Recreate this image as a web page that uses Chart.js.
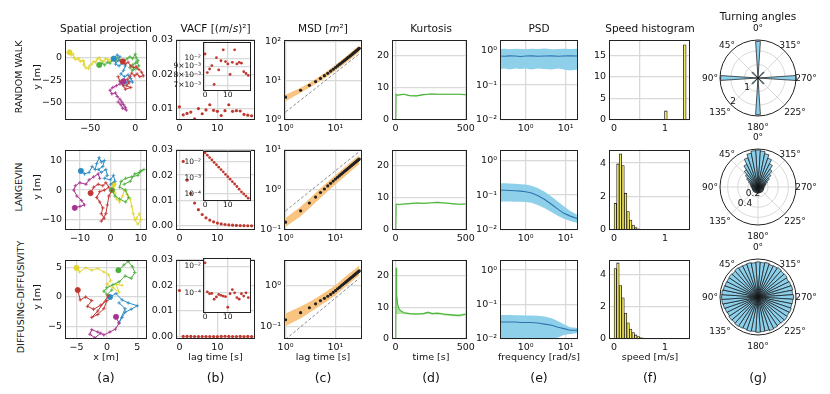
<!DOCTYPE html>
<html>
<head>
<meta charset="utf-8">
<script src="https://cdn.jsdelivr.net/npm/chart.js@4.4.0/dist/chart.umd.min.js"></script>
<style>
body { margin: 0; background: #fff; }
#fig { position: relative; width: 830px; height: 394px; overflow: hidden; font-family: "DejaVu Sans", sans-serif; color: #111; }
#fig canvas { position: absolute; }
.t { position: absolute; white-space: nowrap; transform: translate(-50%, -50%); line-height: 1; }
.title { font-size: 10.5px; }
.lab { font-size: 9.5px; }
.row { font-size: 9.5px; transform: translate(-50%, -50%) rotate(-90deg); }
.ylab { font-size: 9.5px; transform: translate(-50%, -50%) rotate(-90deg); }
.ang { font-size: 9px; }
.letter { font-size: 12.5px; }
</style>
</head>
<body>
<div id="fig"></div>
<script>
// ---- data ----

// (a) spatial projection: [x, y] in m, one list per walker
const rwYellow = [[-73,6],[-71,3],[-69,4],[-68,0],[-66,-2],[-63,-1],[-61,-4],[-58,-3],[-57,-8],[-55,-11],[-52,-12],[-51,-9],[-48,-7],[-46,-4],[-44,-5],[-42,-1],[-40,0],[-38,-3],[-35,-4],[-33,-1],[-30,-2],[-28,-4],[-25,-2],[-22,-3]];
const rwGreen = [[-40,-8],[-37,-6],[-34,-8],[-31,-5],[-28,-6],[-25,-2],[-22,-4],[-20,0],[-17,-3],[-15,-6],[-12,-3],[-9,-1],[-6,1],[-3,-1],[0,4],[1,0],[3,-3],[0,-6],[-3,-8],[-6,-11],[-3,-14],[1,-12],[4,-9],[2,-5]];
const rwBlue = [[-24,-1],[-20,3],[-17,1],[-19,-3],[-22,-7],[-18,-9],[-14,-6],[-11,-9],[-13,-14],[-16,-18],[-12,-21],[-8,-19],[-5,-23],[-3,-27],[-7,-26],[-10,-28],[-13,-31],[-16,-27]];
const rwRed = [[-14,-4],[-11,-7],[-8,-5],[-5,-9],[-2,-11],[1,-10],[4,-13],[7,-16],[9,-20],[5,-21],[2,-18],[-1,-20],[-4,-17],[-6,-21],[-9,-24],[-7,-28],[-10,-31],[-5,-33],[-11,-35],[-14,-30],[-17,-26],[-19,-21]];
const rwMagenta = [[-13,-26],[-17,-29],[-21,-31],[-25,-33],[-28,-36],[-26,-40],[-22,-39],[-20,-43],[-17,-46],[-15,-49],[-13,-52],[-11,-55],[-10,-58],[-14,-56],[-16,-52],[-19,-49]];

const lvBlue = [[-9.7,6.5],[-8.5,5.5],[-7,6],[-6,8],[-5,7],[-4.5,9],[-3.7,11],[-3,9.5],[-2,10],[-2.5,8],[-4,7],[-3,6],[-1.5,7],[-1,5],[-2,4],[0,3.5],[1,5],[1.5,3],[0,2]];
const lvMagenta = [[-11.7,-6],[-10,-5.5],[-8.5,-5],[-9.5,-3.5],[-11,-2],[-12,0],[-11.5,1.5],[-10,2.5],[-8,2],[-7,3.5],[-5.5,4.5],[-4,5.5],[-3.5,4]];
const lvRed = [[-6.5,-1],[-5.5,1],[-4,2],[-2.5,1.5],[-1.5,2.5],[-0.5,1],[-2,0],[-3.5,-0.5],[-4.5,-2.5],[-3.5,-4],[-2.5,-6],[-3,-8],[-2,-9.5],[-3,-10.5],[-1.5,-8],[-1,-5],[-0.5,-2],[0.5,0]];
const lvGreen = [[0.5,0],[1.5,-2],[3,-3],[5,-4],[6,-2.5],[5,0],[3,1],[3.5,3],[5,4],[7,4.5],[9,5],[10,6.5],[11,7],[9.5,6],[8,5.5],[6.5,3],[4.5,2]];
const lvYellow = [[1,2],[1.5,-1],[2,-3],[3,-4],[4,-2],[4.5,0],[5.5,-1.5],[6.5,-3],[7,-5.5],[7.5,-8],[8,-10],[9,-11.5],[10,-10],[9.5,-8],[8.5,-9.5]];

const ddYellow = [[-5,5],[-4.5,4.3],[-3.5,5],[-2.5,4.6],[-1.5,4.9],[-0.5,4.3],[0.3,3.8],[0.6,2.8],[0,2.2],[1,1.6],[2,0.8],[1.5,2.2],[2.5,2]];
const ddGreen = [[1.9,4.6],[2.8,5.5],[3.5,6.1],[4.2,5.2],[4.6,4.2],[4,3.2],[3,3.6],[2,2.6],[1,2.1],[0,1.6],[-0.5,1],[0,0.4],[0.8,1.2]];
const ddRed = [[-4.8,1.2],[-4.4,-0.5],[-3.5,0],[-2.5,-0.6],[-3.2,-1.6],[-2.2,-2.1],[-1,-1.4],[0,-0.6],[-0.5,-2],[-1.5,-3],[-2.5,-3.5],[-1.5,-2.4],[0.2,0.2]];
const ddBlue = [[0.5,0],[1.5,0.6],[2.5,-0.5],[3.5,-1],[5,-1.5],[4,-2.1],[3,-2.6],[2.5,-3.5],[2,-4.4],[3,-2],[2,-1]];
const ddMagenta = [[1.5,-3.4],[2,-4.5],[1.4,-5.5],[0.5,-6],[-0.5,-6.5],[-1.5,-6],[-2.5,-5.6],[-2.8,-6.4],[-2,-7],[-1,-6.2]];

// (b) velocity autocorrelation
const vacfLag = [0,1,2,3,4,5,6,7,8,9,10,11,12,13,14,15,16,17,18,19];
const vacfRW = [0.0106,0.0083,0.0087,0.0091,0.0071,0.0101,0.0086,0.0097,0.0112,0.0096,0.0093,0.0081,0.0095,0.0112,0.0093,0.0095,0.0094,0.0084,0.0082,0.0080];
const vacfLV = [0.036,0.0254,0.018,0.0128,0.009,0.0064,0.0045,0.0032,0.0023,0.0016,0.00114,0.0008,0.00056,0.0004,0.00028,0.00019,0.00013,0.000095,0.00007,0.000052];
const vacfDD = [0.018,1.18e-4,8.5e-5,9.0e-5,3.3e-5,4.9e-5,7.6e-5,6.4e-5,5.7e-5,5.1e-5,8.2e-6,8.5e-5,1.74e-4,1.0e-4,4.4e-5,3.3e-5,8.5e-5,5.7e-5,1.0e-4,4.4e-5];

// (c) mean squared displacement
const msdLag = [1,2,3,4,5,6,7,8,9,10,11,12,13,14,15,16,17,18,19,20,21,22,23,24,25,26,27,28,29,30];
const msdRW = [3.8,5.7,7.6,9.5,11.4,13.4,15.4,17.4,19.5,21.6,23.7,25.8,28.0,30.1,32.3,34.5,36.7,38.9,41.1,43.3,45.6,47.9,50.2,52.5,54.8,57.1,59.4,61.7,64.0,66.3];
const msdLV = [0.157,0.30,0.47,0.66,0.86,1.05,1.25,1.45,1.65,1.85,2.05,2.25,2.45,2.65,2.85,3.05,3.25,3.45,3.65,3.85,4.05,4.25,4.45,4.65,4.85,5.05,5.25,5.45,5.65,5.85];
const msdDD = [0.149,0.22,0.29,0.36,0.43,0.49,0.55,0.61,0.68,0.75,0.83,0.90,0.98,1.05,1.13,1.20,1.28,1.35,1.43,1.50,1.58,1.65,1.73,1.80,1.88,1.95,2.03,2.10,2.18,2.25];
const bandLag = [1,2,3,5,7,10,15,20,25,30];
const msdRWlo = [3.0,4.9,6.6,9.8,13.0,18.0,26.5,35.0,44.0,53.0];
const msdRWhi = [4.4,6.6,8.8,13.2,17.8,25.3,38.5,52.0,65.5,80.0];
const msdLVlo = [0.12,0.22,0.35,0.63,0.92,1.35,2.1,2.85,3.6,4.35];
const msdLVhi = [0.2,0.38,0.6,1.1,1.6,2.35,3.6,4.85,6.1,7.3];
const msdDDlo = [0.105,0.16,0.22,0.33,0.43,0.58,0.88,1.18,1.48,1.78];
const msdDDhi = [0.21,0.31,0.40,0.58,0.76,1.02,1.55,2.05,2.55,3.05];
const refLag = [1, 30];
const refRW = [1.6, 48];
const refLV = [0.3, 9];
const refDD = [0.05, 1.5];

// (d) kurtosis
const kurtT = [2,4,8,15,25,40,60,100,150,200,230,260,300,350,400,450,500];
const kurtRW   = [0,8.0,7.9,7.7,7.8,7.9,8.0,7.6,7.5,7.9,8.0,8.1,8.0,8.0,8.0,8.0,7.9];
const kurtRWlo = [0,7.8,7.7,7.5,7.6,7.7,7.8,7.4,7.3,7.7,7.8,7.9,7.8,7.8,7.8,7.8,7.7];
const kurtRWhi = [0,8.2,8.1,7.9,8.0,8.1,8.2,7.8,7.7,8.1,8.2,8.3,8.2,8.2,8.2,8.2,8.1];
const kurtLV   = [0,8.0,8.0,8.0,7.9,8.0,8.1,8.2,8.4,8.3,8.4,8.5,8.6,8.4,8.2,8.0,8.1];
const kurtLVlo = [0,7.8,7.8,7.8,7.7,7.8,7.9,8.0,8.2,8.1,8.2,8.3,8.4,8.2,8.0,7.8,7.9];
const kurtLVhi = [0,8.2,8.2,8.2,8.1,8.2,8.3,8.4,8.6,8.5,8.6,8.7,8.8,8.6,8.4,8.2,8.3];
const kurtDD   = [0,22.5,14.0,11.0,9.5,8.8,8.3,8.0,7.9,8.0,8.4,8.0,8.1,7.8,7.6,7.4,7.8];
const kurtDDlo = [0,8.0,7.9,7.9,7.9,7.9,7.8,7.7,7.6,7.7,8.0,7.7,7.7,7.4,7.2,7.0,7.4];
const kurtDDhi = [0,22.5,14.0,11.0,9.6,8.9,8.5,8.2,8.1,8.3,8.7,8.3,8.4,8.1,7.9,7.8,8.1];

// (e) power spectral density
const psdF = [0.23,0.3,0.4,0.55,0.75,1,1.4,2,3,4.5,6.5,9,13,20];
const psdRW   = [0.68,0.67,0.69,0.68,0.66,0.68,0.69,0.67,0.68,0.69,0.67,0.68,0.69,0.68];
const psdRWlo = [0.29,0.30,0.28,0.30,0.29,0.30,0.28,0.30,0.29,0.28,0.30,0.28,0.26,0.28];
const psdRWhi = [1.08,1.10,1.07,1.10,1.09,1.06,1.10,1.08,1.11,1.07,1.09,1.10,1.08,1.10];
const psdLV   = [0.14,0.138,0.136,0.133,0.13,0.125,0.115,0.098,0.075,0.054,0.039,0.03,0.025,0.021];
const psdLVlo = [0.065,0.066,0.066,0.065,0.064,0.063,0.06,0.052,0.042,0.032,0.025,0.021,0.018,0.016];
const psdLVhi = [0.22,0.22,0.215,0.21,0.205,0.2,0.185,0.16,0.125,0.09,0.065,0.048,0.035,0.027];
const psdDD   = [0.031,0.031,0.031,0.031,0.030,0.030,0.030,0.029,0.027,0.025,0.022,0.020,0.018,0.018];
const psdDDlo = [0.008,0.008,0.008,0.008,0.008,0.008,0.008,0.009,0.009,0.010,0.011,0.013,0.014,0.015];
const psdDDhi = [0.050,0.050,0.050,0.049,0.049,0.048,0.048,0.047,0.045,0.040,0.033,0.027,0.022,0.021];

// (f) speed histograms (bin centres, density)
const speedRWx = [1.0165,1.0695,1.1225,1.1755,1.2285,1.2815,1.3345,1.3875];
const speedRW = [2.1,0,0,0,0,0,0,17.4];
const speedX = [0.025,0.075,0.125,0.175,0.225,0.275,0.325,0.375,0.425,0.475,0.525,0.575,0.625,0.675,0.725,0.775,0.825,0.875,0.925,0.975,1.025,1.075,1.125,1.175,1.225,1.275,1.325,1.375,1.425,1.475];
const speedLV = [1.6,3.95,4.55,3.85,2.2,1.1,0.6,0.3,0.14,0.07,0.04,0.025,0.015,0.01,0.008,0.006,0.005,0.004,0.003,0.002,0.002,0.002,0.001,0.001,0.001,0.001,0.001,0.001,0.001,0.001];
const speedDD = [4.35,4.7,3.3,2.55,1.6,1.0,0.62,0.4,0.25,0.15,0.09,0.06,0.04,0.025,0.015,0.01,0.007,0.005,0.004,0.003,0.002,0.002,0.001,0.001,0.001,0.001,0.001,0.001,0.001,0.001];

// (g) turning angles, 48 bins of 7.5 deg, clockwise from 0 deg at the top
const turnRW = [2.7,0,0,0,0,0, 0.6,0,0,0,0,0, 2.8,0,0,0,0,0, 0.6,0,0,0,0,0, 2.7,0,0,0,0,0, 0.6,0,0,0,0,0, 2.75,0,0,0,0,0, 0.6,0,0,0,0,0];
const turnLV = [0.73,0.71,0.67,0.60,0.51,0.42,0.34,0.27,0.21,0.17,0.15,0.13, 0.12,0.12,0.12,0.12,0.12,0.12,0.12,0.12,0.12,0.12,0.12,0.12, 0.12,0.12,0.12,0.12,0.12,0.12,0.12,0.12,0.12,0.12,0.12,0.12, 0.13,0.14,0.15,0.17,0.21,0.27,0.33,0.41,0.50,0.61,0.68,0.72];
const turnDD = [0.155,0.153,0.156,0.152,0.154,0.157,0.153,0.155,0.151,0.154,0.156,0.153, 0.157,0.154,0.152,0.155,0.153,0.156,0.154,0.152,0.155,0.157,0.153,0.154, 0.156,0.153,0.155,0.152,0.154,0.156,0.153,0.155,0.151,0.154,0.157,0.160, 0.161,0.160,0.156,0.154,0.153,0.155,0.152,0.156,0.154,0.153,0.155,0.152];
const angleLabels = ['0°','45°','90°','135°','180°','225°','270°','315°'];

// ---- look ----
const cYellow = '#e2d52e', cGreen = '#4caf3c', cBlue = '#2b8cc4', cRed = '#c23632', cMagenta = '#a8338f';

Chart.defaults.font.family = "'DejaVu Sans', sans-serif";
Chart.defaults.font.size = 9.5;
Chart.defaults.color = '#111';
Chart.defaults.animation = false;
Chart.defaults.responsive = false;
Chart.defaults.events = [];
Chart.defaults.plugins.legend.display = false;
Chart.defaults.plugins.tooltip.enabled = false;

// black box around each axes, optional white background (insets)
Chart.register({
    id: 'frame',
    beforeDraw(chart, args, opts) {
        if (chart.config.type === 'polarArea' || !opts || !opts.fill) return;
        const a = chart.chartArea, ctx = chart.ctx;
        ctx.save();
        ctx.fillStyle = '#fff';
        ctx.fillRect(a.left, a.top, a.right - a.left, a.bottom - a.top);
        ctx.restore();
    },
    afterDraw(chart) {
        if (chart.config.type === 'polarArea') return;
        const a = chart.chartArea, ctx = chart.ctx;
        ctx.save();
        ctx.strokeStyle = '#222';
        ctx.lineWidth = 1;
        ctx.strokeRect(Math.round(a.left) + 0.5, Math.round(a.top) + 0.5, Math.round(a.right - a.left) - 1, Math.round(a.bottom - a.top) - 1);
        ctx.restore();
    },
});

// 45 degree spokes and black rim of the polar plots
Chart.register({
    id: 'polarFrame',
    beforeDatasetsDraw(chart) {
        if (chart.config.type !== 'polarArea') return;
        const s = chart.scales.r, ctx = chart.ctx;
        ctx.save();
        ctx.strokeStyle = '#cfcfcf';
        ctx.lineWidth = 0.8;
        for (let k = 0; k < 8; k++) {
            const a = k * Math.PI / 4;
            ctx.beginPath();
            ctx.moveTo(s.xCenter, s.yCenter);
            ctx.lineTo(s.xCenter + s.drawingArea * Math.sin(a), s.yCenter - s.drawingArea * Math.cos(a));
            ctx.stroke();
        }
        ctx.restore();
    },
    afterDatasetsDraw(chart) {
        if (chart.config.type !== 'polarArea') return;
        const s = chart.scales.r, ctx = chart.ctx;
        ctx.save();
        ctx.strokeStyle = '#222';
        ctx.lineWidth = 1;
        ctx.beginPath();
        ctx.arc(s.xCenter, s.yCenter, s.drawingArea, 0, 2 * Math.PI);
        ctx.stroke();
        ctx.restore();
    },
});

const fig = document.getElementById('fig');
const SUP = {'0':'⁰','1':'¹','2':'²','3':'³','4':'⁴','5':'⁵','6':'⁶','7':'⁷','8':'⁸','9':'⁹','-':'⁻'};
const sup = n => String(n).split('').map(ch => SUP[ch]).join('');
const logLabel = v => {
    const e = Math.floor(Math.log10(v) + 1e-9);
    const m = Math.round(v / Math.pow(10, e));
    return (m === 1 ? '' : m + '×') + '10' + sup(e);
};
const numLabel = v => String(v).replace('-', '−');
const fix2 = v => v.toFixed(2);

const xy = (xs, ys) => xs.map((x, i) => ({x: x, y: ys[i]}));
const pts = list => list.map(p => ({x: p[0], y: p[1]}));

function axis(type, min, max, ticks, fmt, extra) {
    return Object.assign({
        type: type,
        min: min,
        max: max,
        afterBuildTicks: s => { s.ticks = ticks.map(v => ({value: v})); },
        ticks: {callback: fmt, padding: 3, maxRotation: 0, autoSkip: false, color: '#111'},
        grid: {color: '#d9d9d9', lineWidth: 1.3, drawTicks: false},
        border: {display: false},
    }, extra || {});
}

function panel(x0, x1, y0, y1, config, padL, padB) {
    padL = padL || 34;
    padB = padB || 15;
    const padT = 4, padR = 8;
    const c = document.createElement('canvas');
    c.width = padL + (x1 - x0) + padR;
    c.height = padT + (y1 - y0) + padB;
    c.style.left = (x0 - padL) + 'px';
    c.style.top = (y0 - padT) + 'px';
    fig.appendChild(c);
    const o = config.options;
    o.layout = {padding: {top: padT, right: padR, left: 0, bottom: 0}};
    o.scales.x.afterFit = s => { s.height = padB; };
    o.scales.y.afterFit = s => { s.width = padL; };
    return new Chart(c, config);
}

function polar(cx, cy, values, rmax, rings) {
    const c = document.createElement('canvas');
    c.width = 80;
    c.height = 80;
    c.style.left = (cx - 40) + 'px';
    c.style.top = (cy - 40) + 'px';
    fig.appendChild(c);
    return new Chart(c, {
        type: 'polarArea',
        data: {
            labels: values.map((v, i) => i),
            datasets: [{data: values, backgroundColor: '#8dd0ec', borderColor: '#111', borderWidth: 0.7}],
        },
        options: {
            layout: {padding: 2},
            scales: {
                r: {
                    min: 0,
                    max: rmax,
                    startAngle: -180 / values.length,
                    afterBuildTicks: s => { s.ticks = [0].concat(rings).map(v => ({value: v})); },
                    ticks: {display: false},
                    grid: {color: '#cfcfcf', lineWidth: 0.8, circular: true},
                    angleLines: {display: false},
                    pointLabels: {display: false},
                },
            },
        },
    });
}

function text(str, x, y, cls, html) {
    const d = document.createElement('div');
    d.className = 't ' + cls;
    if (html) d.innerHTML = str; else d.textContent = str;
    d.style.left = x + 'px';
    d.style.top = y + 'px';
    fig.appendChild(d);
}

function walk(list, color) {
    return {
        data: pts(list),
        borderColor: color,
        backgroundColor: color,
        borderWidth: 1,
        pointStyle: ctx => ctx.dataIndex === 0 ? 'circle' : 'cross',
        pointRadius: ctx => ctx.dataIndex === 0 ? 2.6 : 1.8,
        pointBorderWidth: 0.8,
        tension: 0,
    };
}

function band(xs, lo, hi, color) {
    return [
        {data: xy(xs, hi), borderWidth: 0, pointRadius: 0, fill: '+1', backgroundColor: color},
        {data: xy(xs, lo), borderWidth: 0, pointRadius: 0, fill: false},
    ];
}

// ---- layout ----
const colA = [65, 147], colB = [176, 255], colC = [284, 362], colD = [392, 470], colE = [500, 578], colF = [609, 690];
const rowY = [[35, 120], [145, 230], [255, 339]];
const insetX = [203, 251];
const insetY = [[39, 90], [148, 200], [255, 312]];
const polarC = [[758, 78], [758, 187], [758, 297]];

const rows = [
    {
        walks: [rwMagenta, rwRed, rwBlue, rwGreen, rwYellow],
        ax: [-78, 13, [-50, 0]], ay: [-69, 20, [-50, -25, 0]],
        vacf: vacfRW, vy: [0.0068, 0.03, [0.01, 0.02, 0.03]], iy: [0.0066, 0.0125, [0.007, 0.008, 0.009, 0.01]],
        msd: msdRW, lo: msdRWlo, hi: msdRWhi, ref: refRW, my: [1, 110, [1, 10, 100]],
        kurt: kurtRW, klo: kurtRWlo, khi: kurtRWhi,
        psd: psdRW, plo: psdRWlo, phi: psdRWhi,
        sx: speedRWx, sp: speedRW, sy: [0, 18.6, [0, 5, 10, 15]],
        turn: turnRW, rmax: 2.8, rings: [1, 2], rlab: [['1', -11, 9], ['2', -25, 23]],
    },
    {
        walks: [lvMagenta, lvRed, lvBlue, lvGreen, lvYellow],
        ax: [-14.9, 12, [-10, 0, 10]], ay: [-13.5, 13.7, [-10, 0, 10]],
        vacf: vacfLV, vy: [-0.0016, 0.03, [0, 0.01, 0.02, 0.03]], iy: [4e-5, 0.05, [1e-4, 1e-3, 1e-2]],
        msd: msdLV, lo: msdLVlo, hi: msdLVhi, ref: refLV, my: [0.1, 10, [0.1, 1, 10]],
        kurt: kurtLV, klo: kurtLVlo, khi: kurtLVhi,
        psd: psdLV, plo: psdLVlo, phi: psdLVhi,
        sx: speedX, sp: speedLV, sy: [0, 4.8, [0, 2, 4]],
        turn: turnLV, rmax: 0.75, rings: [0.2, 0.4, 0.6], rlab: [['0.2', -5, 6], ['0.4', -13, 16]],
    },
    {
        walks: [ddMagenta, ddRed, ddBlue, ddGreen, ddYellow],
        ax: [-6.9, 6.6, [-5, 0, 5]], ay: [-7.2, 6.4, [-5, 0, 5]],
        vacf: vacfDD, vy: [-0.0009, 0.03, [0, 0.01, 0.02, 0.03]], iy: [3.6e-6, 0.045, [1e-4, 1e-2]],
        msd: msdDD, lo: msdDDlo, hi: msdDDhi, ref: refDD, my: [0.051, 4.2, [0.1, 1]],
        kurt: kurtDD, klo: kurtDDlo, khi: kurtDDhi,
        psd: psdDD, plo: psdDDlo, phi: psdDDhi,
        sx: speedX, sp: speedDD, sy: [0, 4.9, [0, 2, 4]],
        turn: turnDD, rmax: 0.168, rings: [0.05, 0.1, 0.15], rlab: [],
    },
];

const walkColors = [cMagenta, cRed, cBlue, cGreen, cYellow];

rows.forEach((r, k) => {
    const [y0, y1] = rowY[k];

    // (a) spatial projection
    panel(colA[0], colA[1], y0, y1, {
        type: 'line',
        data: {datasets: r.walks.map((w, i) => walk(w, walkColors[i]))},
        options: {scales: {
            x: axis('linear', r.ax[0], r.ax[1], r.ax[2], numLabel),
            y: axis('linear', r.ay[0], r.ay[1], r.ay[2], numLabel),
        }},
    });

    // (b) VACF, linear
    panel(colB[0], colB[1], y0, y1, {
        type: 'line',
        data: {datasets: [{data: xy(vacfLag, r.vacf), showLine: false, pointRadius: 1.6, pointBackgroundColor: '#c0392f', pointBorderWidth: 0}]},
        options: {scales: {
            x: axis('linear', -0.9, 19.9, [0, 10], numLabel),
            y: axis('linear', r.vy[0], r.vy[1], r.vy[2], fix2),
        }},
    });

    // (b) inset, log y
    const iy = insetY[k];
    panel(insetX[0], insetX[1], iy[0], iy[1], {
        type: 'line',
        data: {datasets: [{data: xy(vacfLag, r.vacf), showLine: false, pointRadius: 1.4, pointBackgroundColor: '#c0392f', pointBorderWidth: 0}]},
        options: {
            plugins: {frame: {fill: true}},
            scales: {
                x: axis('linear', -0.9, 20.2, [0, 10], numLabel, {ticks: {callback: numLabel, padding: 1, font: {size: 7.5}, maxRotation: 0, autoSkip: false, color: '#111'}}),
                y: axis('logarithmic', r.iy[0], r.iy[1], r.iy[2], logLabel, {ticks: {callback: logLabel, padding: 2, font: {size: 7.5}, autoSkip: false, color: '#111'}}),
            },
        },
    }, 32, 11);

    // (c) MSD
    panel(colC[0], colC[1], y0, y1, {
        type: 'line',
        data: {datasets: [
            {data: xy(msdLag, r.msd), showLine: false, pointRadius: 1.6, pointBackgroundColor: '#222', pointBorderWidth: 0},
            {data: xy(refLag, r.ref), borderColor: '#8a8a8a', borderWidth: 1, borderDash: [3, 2], pointRadius: 0},
        ].concat(band(bandLag, r.lo, r.hi, '#f9c480'))},
        options: {scales: {
            x: axis('logarithmic', 0.93, 34, [1, 10], logLabel),
            y: axis('logarithmic', r.my[0], r.my[1], r.my[2], logLabel),
        }},
    });

    // (d) kurtosis
    panel(colD[0], colD[1], y0, y1, {
        type: 'line',
        data: {datasets: [
            {data: xy(kurtT, r.kurt), borderColor: '#4fb33f', borderWidth: 1.1, pointRadius: 0},
        ].concat(band(kurtT, r.klo, r.khi, 'rgba(120,205,95,0.55)'))},
        options: {scales: {
            x: axis('linear', -25, 512, [0, 500], numLabel),
            y: axis('linear', 0, 25, [0, 10, 20], numLabel),
        }},
    });

    // (e) PSD
    panel(colE[0], colE[1], y0, y1, {
        type: 'line',
        data: {datasets: [
            {data: xy(psdF, r.psd), borderColor: '#2e75b0', borderWidth: 1.1, pointRadius: 0},
        ].concat(band(psdF, r.plo, r.phi, '#8ecfea'))},
        options: {scales: {
            x: axis('logarithmic', 0.23, 20.3, [1, 10], logLabel),
            y: axis('logarithmic', 0.01, 2, [0.01, 0.1, 1], logLabel),
        }},
    });

    // (f) speed histogram
    panel(colF[0], colF[1], y0, y1, {
        type: 'bar',
        data: {datasets: [{data: xy(r.sx, r.sp), backgroundColor: '#f2ea60', borderColor: '#111', borderWidth: 0.8, borderSkipped: false, barPercentage: 1, categoryPercentage: 1}]},
        options: {scales: {
            x: axis('linear', -0.1, 1.49, [0, 1], numLabel, {offset: false}),
            y: axis('linear', r.sy[0], r.sy[1], r.sy[2], numLabel),
        }},
    });

    // (g) turning angles
    const [cx, cy] = polarC[k];
    polar(cx, cy, r.turn, r.rmax, r.rings);
    const off = [[0, -50], [-31, -33], [-48, 0], [-38, 34], [0, 49], [37, 34], [48, 0], [32, -33]];
    angleLabels.forEach((a, i) => text(a, cx + off[i][0], cy + off[i][1], 'ang'));
    r.rlab.forEach(l => text(l[0], cx + l[1], cy + l[2], 'ang'));
});

// ---- text ----
text('Spatial projection', 106, 28, 'title');
text('VACF [(<i>m</i>/<i>s</i>)²]', 215.5, 28, 'title', true);
text('MSD [<i>m</i>²]', 323, 28, 'title', true);
text('Kurtosis', 431, 28, 'title');
text('PSD', 539, 28, 'title');
text('Speed histogram', 650, 28, 'title');
text('Turning angles', 758, 16, 'title');

text('RANDOM WALK', 19, 77, 'row');
text('LANGEVIN', 19, 187, 'row');
text('DIFFUSING-DIFFUSIVITY', 21, 297, 'row');
text('y [m]', 37, 77, 'ylab');
text('y [m]', 37, 187, 'ylab');
text('y [m]', 37, 297, 'ylab');

text('x [m]', 106, 357, 'lab');
text('lag time [s]', 215.5, 357, 'lab');
text('lag time [s]', 323, 357, 'lab');
text('time [s]', 431, 357, 'lab');
text('frequency [rad/s]', 539, 357, 'lab');
text('speed [m/s]', 650, 357, 'lab');

['(a)', '(b)', '(c)', '(d)', '(e)', '(f)', '(g)'].forEach((s, i) => {
    text(s, [106, 215.5, 323, 431, 539, 650, 758][i], 378, 'letter');
});
</script>
</body>
</html>
